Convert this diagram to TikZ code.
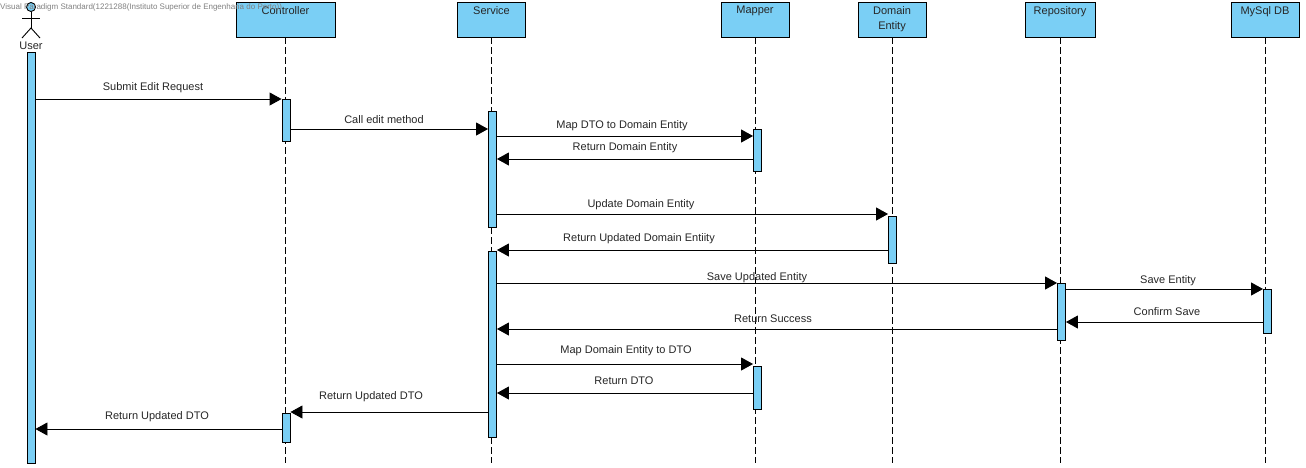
\documentclass[tikz,border=0pt]{standalone}
\usepackage{fontspec}
\setmainfont{Liberation Sans}
\usetikzlibrary{arrows.meta, positioning}
\definecolor{vpblue}{HTML}{7ACFF5}
\tikzset{
    lifehead/.style={
        rectangle, draw=black, line width=0.9pt, fill=vpblue,
        minimum height=35pt, inner sep=0pt
    },
    headtext/.style={font=\fontsize{11}{15}\selectfont, text=black!85, anchor=north, inner sep=0pt, align=center},
    bar/.style={
        rectangle, draw=black, line width=0.9pt, fill=vpblue,
        minimum width=8pt, inner sep=0pt
    },
    lifeline/.style={draw=black, line width=0.9pt, dash pattern=on 7pt off 3pt},
    msg/.style={draw=black, line width=0.9pt, -{Triangle[length=12pt,width=13pt]}},
    msglabel/.style={font=\fontsize{11}{13}\selectfont, text=black!85, inner sep=0pt},
    stick/.style={draw=black, line width=0.9pt}
}

\begin{document}
\begin{tikzpicture}[x=1pt,y=-1pt]
\useasboundingbox (0,0) rectangle (1306,467);

% Lifeline heads
\node[lifehead, minimum width=99pt] (ctrl) at (285.5,19.5) {};
\node[lifehead, minimum width=68pt] (svc) at (491.5,19.5) {};
\node[lifehead, minimum width=68pt] (mapper) at (755,19.5) {};
\node[lifehead, minimum width=68pt] (entity) at (892,19.5) {};
\node[lifehead, minimum width=70pt] (repo) at (1060,19.5) {};
\node[lifehead, minimum width=68pt] (db) at (1265,19.5) {};

\node[headtext] (ctrlText) at (285.5,6) {Controller};
\node[headtext] (svcText) at (491.5,6) {Service};
\node[headtext] (mapperText) at (755,6) {Mapper};
\node[headtext] (entityText) at (892,6) {Domain\\Entity};
\node[headtext] (repoText) at (1060,6) {Repository};
\node[headtext] (dbText) at (1265,6) {MySql DB};

% Lifeline ends
\coordinate (ctrlEnd) at (285.5,463);
\coordinate (svcEnd) at (491.5,463);
\coordinate (mapperEnd) at (755,463);
\coordinate (entityEnd) at (892,463);
\coordinate (repoEnd) at (1060,463);
\coordinate (dbEnd) at (1265,463);

\draw[lifeline] (ctrl) -- (ctrlEnd);
\draw[lifeline] (svc) -- (svcEnd);
\draw[lifeline] (mapper) -- (mapperEnd);
\draw[lifeline] (entity) -- (entityEnd);
\draw[lifeline] (repo) -- (repoEnd);
\draw[lifeline] (db) -- (dbEnd);

% User
\node[circle, draw=black, line width=0.9pt, fill=vpblue, minimum size=9pt, inner sep=0pt] (userHead) at (31,7) {};
\coordinate (userHip) at (31,28);
\coordinate (userArmL) at (22,18);
\coordinate (userArmR) at (40,18);
\coordinate (userFootL) at (22,38);
\coordinate (userFootR) at (40,38);
\draw[stick] (userHead) -- (userHip);
\draw[stick] (userArmL) -- (userArmR);
\draw[stick] (userFootL) -- (userHip) -- (userFootR);
\node[msglabel] (userText) at (31,46) {User};

% Watermark
\node[font=\fontsize{8}{10}\selectfont, text=black!50, anchor=west, inner sep=0pt] (mark) at (0,7) {Visual Paradigm Standard(1221288(Instituto Superior de Engenharia do Porto))};

% Activation bars
\node[bar, minimum height=411pt] (userA) at (31,257.5) {};
\node[bar, minimum height=42pt] (ctrlA) at (286,120) {};
\node[bar, minimum height=29pt] (ctrlB) at (286,427.5) {};
\node[bar, minimum height=116pt] (svcA) at (492.5,169.5) {};
\node[bar, minimum height=186pt] (svcB) at (492.5,344) {};
\node[bar, minimum height=42pt] (mapA) at (757.5,150) {};
\node[bar, minimum height=43pt] (mapB) at (757.5,387.5) {};
\node[bar, minimum height=47pt] (entityA) at (892.5,239.5) {};
\node[bar, minimum height=57pt] (repoA) at (1061.5,311.5) {};
\node[bar, minimum height=44pt] (dbA) at (1267.5,311) {};

% Messages
\draw[msg] (userA.east |- 0,99) -- (ctrlA.west |- 0,99);
\node[msglabel] (lSubmit) at (153,87.5) {Submit Edit Request};

\draw[msg] (ctrlA.east |- 0,129) -- (svcA.west |- 0,129);
\node[msglabel] (lCall) at (384,120) {Call edit method};

\draw[msg] (svcA.east |- 0,136) -- (mapA.west |- 0,136);
\node[msglabel] (lMap) at (622,125.5) {Map DTO to Domain Entity};

\draw[msg] (mapA.west |- 0,159) -- (svcA.east |- 0,159);
\node[msglabel] (lReturnEntity) at (625,147.5) {Return Domain Entity};

\draw[msg] (svcA.east |- 0,214) -- (entityA.west |- 0,214);
\node[msglabel] (lUpdate) at (641,204.5) {Update Domain Entity};

\draw[msg] (entityA.west |- 0,250) -- (svcB.east |- 0,250);
\node[msglabel] (lReturnUpdated) at (639,238.5) {Return Updated Domain Entiity};

\draw[msg] (svcB.east |- 0,283) -- (repoA.west |- 0,283);
\node[msglabel] (lSaveUpdated) at (757,277.5) {Save Updated Entity};

\draw[msg] (repoA.east |- 0,289) -- (dbA.west |- 0,289);
\node[msglabel] (lSaveEntity) at (1168,280.5) {Save Entity};

\draw[msg] (dbA.west |- 0,322) -- (repoA.east |- 0,322);
\node[msglabel] (lConfirm) at (1167,311.5) {Confirm Save};

\draw[msg] (repoA.west |- 0,329) -- (svcB.east |- 0,329);
\node[msglabel] (lSuccess) at (773,318.5) {Return Success};

\draw[msg] (svcB.east |- 0,364) -- (mapB.west |- 0,364);
\node[msglabel] (lMapBack) at (626,351) {Map Domain Entity to DTO};

\draw[msg] (mapB.west |- 0,393) -- (svcB.east |- 0,393);
\node[msglabel] (lReturnDto) at (624,381) {Return DTO};

\draw[msg] (svcB.west |- 0,412) -- (ctrlB.east |- 0,412);
\node[msglabel] (lDtoCtrl) at (371,397) {Return Updated DTO};

\draw[msg] (ctrlB.west |- 0,429) -- (userA.east |- 0,429);
\node[msglabel] (lDtoUser) at (157,417) {Return Updated DTO};

\end{tikzpicture}
\end{document}
